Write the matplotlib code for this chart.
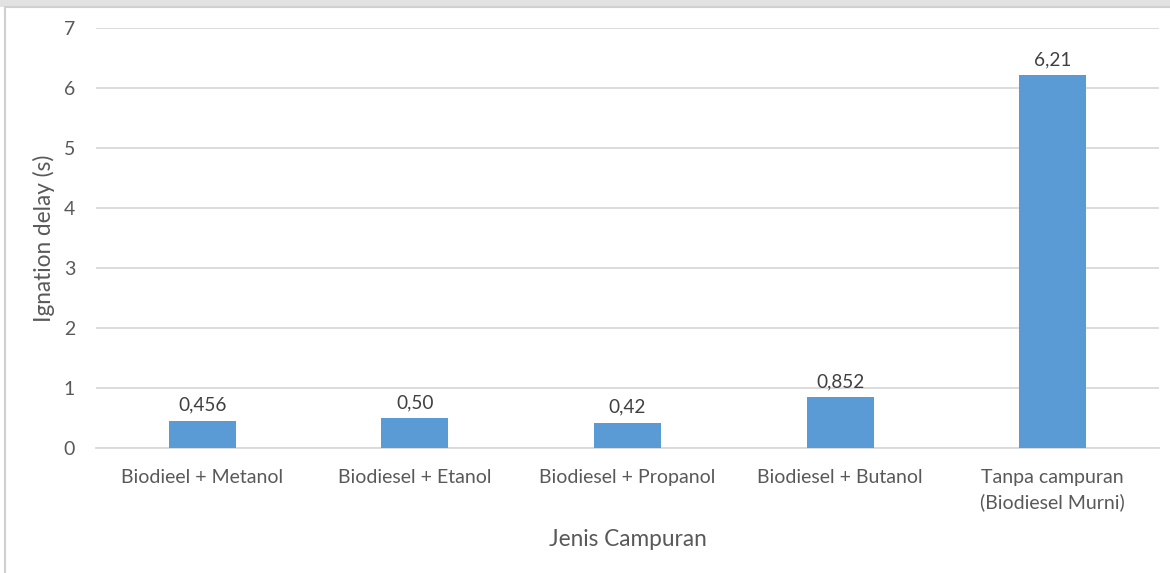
import matplotlib
matplotlib.use("Agg")
import matplotlib.pyplot as plt
from matplotlib.patches import Rectangle

categories = [
    "Biodieel + Metanol",
    "Biodiesel + Etanol",
    "Biodiesel + Propanol",
    "Biodiesel + Butanol",
    "Tanpa campuran\n(Biodiesel Murni)",
]
values = [0.456, 0.50, 0.42, 0.852, 6.21]
value_labels = ["0,456", "0,50", "0,42", "0,852", "6,21"]
y_ticks = [0, 1, 2, 3, 4, 5, 6, 7]

plt.rcParams["font.family"] = ["Lato", "DejaVu Sans"]

W, H, DPI = 1170, 573, 100
fig = plt.figure(figsize=(W / DPI, H / DPI), dpi=DPI)
fig.patch.set_facecolor("white")

# outer frame of the chart area and the grey strip above it
fig.add_artist(Rectangle((0, 1 - 7 / H), 1, 7 / H, transform=fig.transFigure,
                         facecolor="#e2e2e2", edgecolor="none", zorder=0))
fig.add_artist(Rectangle((5 / W, -0.1), 1.2, 1 - 7 / H + 0.1, transform=fig.transFigure,
                         facecolor="white", edgecolor="#d0d0d0", linewidth=1.5, zorder=0))

left, right = 96 / W, 1159 / W
bottom, top = (H - 448) / H, (H - 28) / H
ax = fig.add_axes([left, bottom, right - left, top - bottom])
ax.set_facecolor("none")

x = list(range(len(categories)))
bars = ax.bar(x, values, width=0.315, color="#5b9bd5", zorder=3)

for b, lab in zip(bars, value_labels):
    ax.annotate(lab, (b.get_x() + b.get_width() / 2, b.get_height()),
                xytext=(0, 5), textcoords="offset points",
                ha="center", va="bottom", fontsize=13.7, color="#404040")

ax.set_xlim(-0.5, len(categories) - 0.5)
ax.set_ylim(0, 7)
ax.set_yticks(y_ticks)
ax.set_yticklabels([str(t) for t in y_ticks])
ax.set_xticks(x)
ax.set_xticklabels(categories, linespacing=1.5)

ax.yaxis.grid(True, color="#d9d9d9", linewidth=1.3, zorder=0)
ax.set_axisbelow(True)
for s in ["top", "right", "left"]:
    ax.spines[s].set_visible(False)
ax.spines["bottom"].set_color("#d9d9d9")
ax.spines["bottom"].set_linewidth(1.3)

ax.tick_params(axis="both", length=0, labelsize=14, labelcolor="#595959")
ax.tick_params(axis="x", pad=15)
ax.tick_params(axis="y", pad=15)

ax.set_xlabel("Jenis Campuran", fontsize=16.3, color="#595959", labelpad=13)
ax.set_ylabel("Ignation delay (s)", fontsize=16.3, color="#595959", labelpad=6)

fig.savefig("out.png", dpi=DPI)
